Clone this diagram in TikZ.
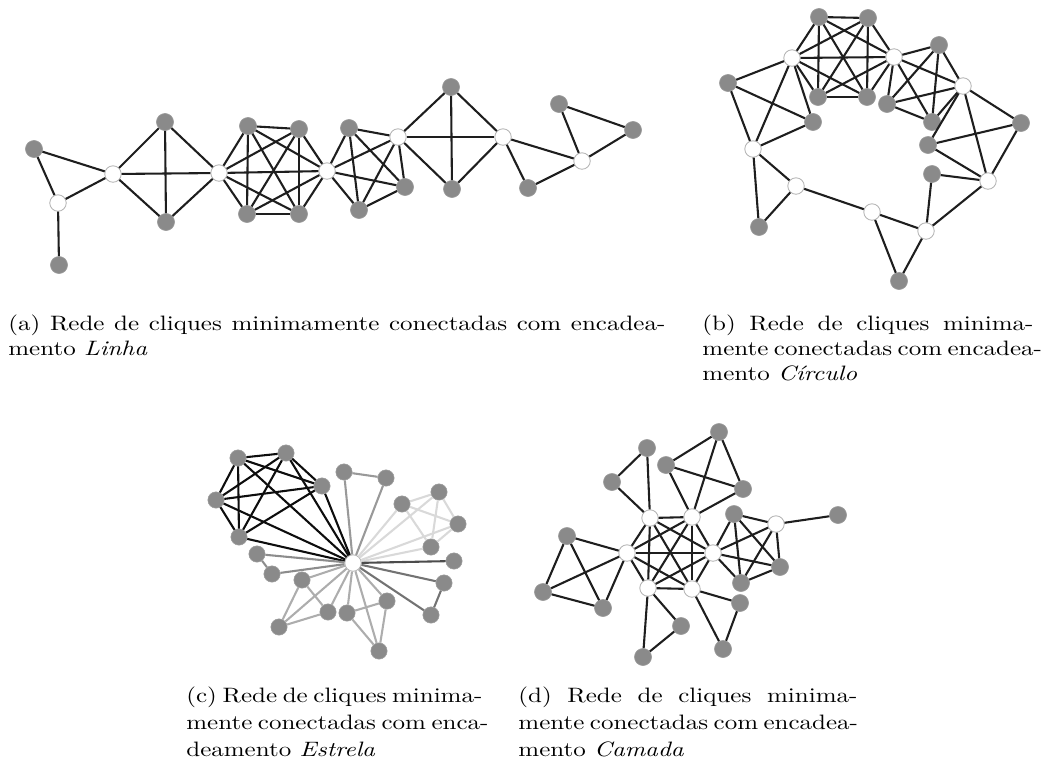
\documentclass[tikz,border=0pt]{standalone}
\usepackage{graphicx}
\definecolor{nodegray}{RGB}{138,138,138}
\definecolor{edgedark}{RGB}{30,30,30}
% every pair of the listed nodes gets an edge
\newcommand\mkclique[2][ln]{%
  \foreach \p [count=\i] in {#2}{%
    \foreach \q [count=\j] in {#2}{%
      \ifnum\j>\i\relax\draw[#1] (\p) -- (\q);\fi}}}
% caption lines: justified line of a given width (in px) and a free last line
\newcommand\capline[2]{\scalebox{1.2}[1]{\makebox[\dimexpr0.4pt*#1\relax][s]{#2}}}
\newcommand\caplast[1]{\scalebox{1.2}[1]{#1}}
\begin{document}
\begin{tikzpicture}[x=0.48pt,y=-0.48pt,
  gn/.style={circle,fill=nodegray,draw=nodegray!85!white,line width=0.3pt,inner sep=0pt,minimum size=8.2pt},
  sgn/.style={gn,minimum size=7.8pt},
  wn/.style={circle,fill=white,draw=black!30,line width=0.4pt,inner sep=0pt,minimum size=7.9pt},
  ln/.style={draw=edgedark,line width=1pt},
  captext/.style={anchor=base west,inner sep=0pt,font=\normalsize},
  ec1/.style={draw=black!95,line width=1pt},
  ec2/.style={draw=black!40,line width=1pt},
  ec3/.style={draw=black!15,line width=1pt},
  ec4/.style={draw=black!70,line width=1pt},
  ec5/.style={draw=black!55,line width=1pt},
  ec6/.style={draw=black!32,line width=1pt},
  ec7/.style={draw=black!45,line width=1pt},
]
\useasboundingbox (0,0) rectangle (1049,769);

%% (a) Linha
\node[gn] (a1) at (34,149) {};
\node[wn] (aw1) at (58,203) {};
\node[gn] (a2) at (59,265) {};
\node[wn] (aw2) at (113,174) {};
\node[gn] (a3) at (165,122) {};
\node[gn] (a4) at (166,222) {};
\node[wn] (aw3) at (219,173) {};
\node[gn] (a5) at (248,126) {};
\node[gn] (a6) at (299,129) {};
\node[gn] (a7) at (247,214) {};
\node[gn] (a8) at (299,214) {};
\node[wn] (aw4) at (327,171) {};
\node[gn] (a9) at (349,128) {};
\node[gn] (a10) at (405,187) {};
\node[gn] (a11) at (359,210) {};
\node[wn] (aw5) at (398,137) {};
\node[gn] (a12) at (451,87) {};
\node[gn] (a13) at (452,189) {};
\node[wn] (aw6) at (503,137) {};
\node[gn] (a14) at (528,188) {};
\node[wn] (aw7) at (582,161) {};
\node[gn] (a15) at (559,104) {};
\node[gn] (a16) at (633,130) {};

\mkclique{a1,aw1,aw2}
\draw[ln] (aw1) -- (a2);
\mkclique{aw2,a3,a4,aw3}
\mkclique{aw3,a5,a6,a7,a8,aw4}
\mkclique{aw4,a9,a10,a11,aw5}
\mkclique{aw5,a12,a13,aw6}
\mkclique{aw6,a14,aw7}
\mkclique{aw7,a15,a16}

%% (b) Circulo
\node[gn] (b1) at (819,17) {};
\node[gn] (b2) at (868,18) {};
\node[wn] (bwA) at (792,58) {};
\node[wn] (bwB) at (894,57) {};
\node[gn] (b3) at (818,97) {};
\node[gn] (b4) at (867,97) {};
\node[gn] (b5) at (728,83) {};
\node[gn] (b6) at (813,122) {};
\node[wn] (bwC) at (753,149) {};
\node[gn] (b7) at (939,45) {};
\node[gn] (b8) at (887,104) {};
\node[gn] (b9) at (932,122) {};
\node[wn] (bwD) at (963,86) {};
\node[gn] (b10) at (1021,123) {};
\node[gn] (b11) at (928,145) {};
\node[wn] (bwE) at (988,181) {};
\node[gn] (b12) at (932,174) {};
\node[wn] (bwF) at (926,231) {};
\node[wn] (bwG) at (872,212) {};
\node[gn] (b13) at (899,281) {};
\node[wn] (bwH) at (796,186) {};
\node[gn] (b14) at (759,227) {};

\mkclique{bwA,b1,b2,bwB,b3,b4}
\mkclique{bwA,b5,b6,bwC}
\mkclique{bwB,b7,b8,b9,bwD}
\mkclique{bwD,b10,b11,bwE}
\mkclique{bwE,b12,bwF}
\mkclique{bwF,bwG,b13}
\draw[ln] (bwG) -- (bwH);
\mkclique{bwC,bwH,b14}

%% (c) Estrela
\node[wn] (hub) at (353,563) {};
\node[sgn] (k1) at (238,458) {};
\node[sgn] (k2) at (286,453) {};
\node[sgn] (k3) at (322,486) {};
\node[sgn] (k4) at (216,500) {};
\node[sgn] (k5) at (239,537) {};
\node[sgn] (m1) at (344,472) {};
\node[sgn] (m2) at (386,478) {};
\node[sgn] (n1) at (402,504) {};
\node[sgn] (n2) at (439,492) {};
\node[sgn] (n3) at (458,524) {};
\node[sgn] (n4) at (431,547) {};
\node[sgn] (p1) at (454,561) {};
\node[sgn] (q1) at (444,583) {};
\node[sgn] (q2) at (431,615) {};
\node[sgn] (r1) at (387,601) {};
\node[sgn] (r2) at (347,613) {};
\node[sgn] (r3) at (379,651) {};
\node[sgn] (s1) at (302,580) {};
\node[sgn] (s2) at (328,612) {};
\node[sgn] (s3) at (279,627) {};
\node[sgn] (t1) at (257,554) {};
\node[sgn] (t2) at (272,574) {};

\mkclique[ec1]{hub,k1,k2,k3,k4,k5}
\mkclique[ec2]{hub,m1,m2}
\mkclique[ec3]{hub,n1,n2,n3,n4}
\draw[ec4] (hub) -- (p1);
\mkclique[ec5]{hub,q1,q2}
\mkclique[ec6]{hub,r1,r2,r3}
\mkclique[ec6]{hub,s1,s2,s3}
\mkclique[ec7]{hub,t1,t2}

%% (d) Camada
\node[wn] (dW1) at (650,518) {};
\node[wn] (dW2) at (692,517) {};
\node[wn] (dW3) at (627,553) {};
\node[wn] (dW4) at (713,553) {};
\node[wn] (dW5) at (648,588) {};
\node[wn] (dW6) at (692,589) {};
\node[gn] (u1) at (647,448) {};
\node[gn] (u2) at (612,482) {};
\node[gn] (v1) at (719,432) {};
\node[gn] (v2) at (666,465) {};
\node[gn] (v3) at (743,489) {};
\node[gn] (x1) at (567,536) {};
\node[gn] (x2) at (543,592) {};
\node[gn] (x3) at (603,608) {};
\node[gn] (y1) at (734,514) {};
\node[wn] (dwY) at (776,524) {};
\node[gn] (y2) at (780,567) {};
\node[gn] (y3) at (741,583) {};
\node[gn] (z1) at (838,515) {};
\node[gn] (e1) at (681,626) {};
\node[gn] (e2) at (643,657) {};
\node[gn] (f1) at (740,603) {};
\node[gn] (f2) at (723,649) {};

\mkclique{dW1,dW2,dW3,dW4,dW5,dW6}
\mkclique{dW1,u1,u2}
\mkclique{dW2,v1,v2,v3}
\mkclique{dW3,x1,x2,x3}
\mkclique{dW4,y1,dwY,y2,y3}
\draw[ln] (dwY) -- (z1);
\mkclique{dW5,e1,e2}
\mkclique{dW6,f1,f2}

%% captions
\node[captext] (capa1) at (8,330) {\capline{657}{(a) Rede de cliques minimamente conectadas com encadea-}};
\node[captext] (capa2) at (8,355) {\caplast{mento \textit{Linha}}};

\node[captext] (capb1) at (702,330) {\capline{331}{(b) Rede de cliques minima-}};
\node[captext] (capb2) at (702,355) {\capline{331}{mente conectadas com encadea-}};
\node[captext] (capb3) at (702,380) {\caplast{mento \textit{Círculo}}};

\node[captext] (capc1) at (186,702) {\capline{296}{(c) Rede de cliques minima-}};
\node[captext] (capc2) at (186,729) {\capline{296}{mente conectadas com enca-}};
\node[captext] (capc3) at (186,756) {\caplast{deamento \textit{Estrela}}};

\node[captext] (capd1) at (518,702) {\capline{339}{(d) Rede de cliques minima-}};
\node[captext] (capd2) at (518,729) {\capline{339}{mente conectadas com encadea-}};
\node[captext] (capd3) at (518,756) {\caplast{mento \textit{Camada}}};
\end{tikzpicture}
\end{document}
